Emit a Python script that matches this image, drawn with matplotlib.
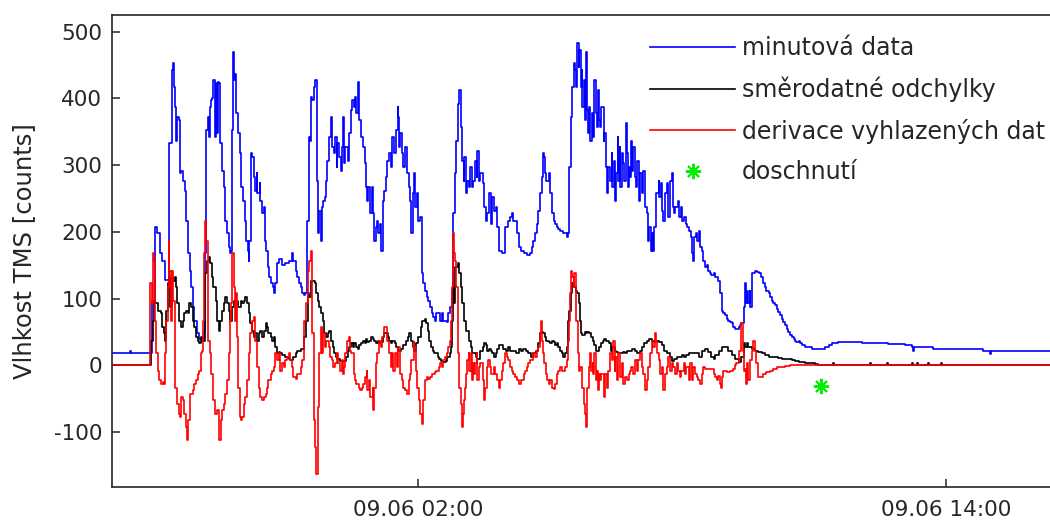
import numpy as np
import matplotlib
matplotlib.use("Agg")
import matplotlib.pyplot as plt

plt.rcParams["axes.unicode_minus"] = False

# time in minutes since 08.06 19:00, values in TMS counts
minutova = [(3,19),(26,19),(27,22),(28,19),(55,19),(57,97),(61,207),(64,198),(68,168),(71,157),(75,128),(80,132),(81,333),(84,442),(86,453),(87,417),(89,387),(90,337),(91,372),(94,367),(95,288),(97,292),(100,277),(102,262),(104,217),(106,168),(109,142),(111,117),(113,87),(115,67),(119,48),(122,40),(125,40),(128,52),(130,168),(131,352),(133,372),(135,342),(136,387),(138,397),(139,400),(141,427),(143,342),(145,423),(146,348),(147,425),(149,423),(150,333),(153,292),(155,267),(157,217),(160,198),(162,177),(164,168),(165,172),(166,352),(168,470),(169,427),(171,437),(172,378),(175,348),(177,318),(179,267),(181,247),(184,217),(185,187),(188,172),(189,157),(190,187),(192,318),(194,312),(196,282),(198,262),(200,288),(201,258),(204,273),(205,247),(207,228),(210,237),(211,187),(213,172),(215,147),(217,132),(220,123),(222,117),(224,108),(225,123),(228,153),(230,160),(235,150),(239,153),(244,157),(248,168),(250,157),(253,142),(255,132),(257,123),(260,117),(262,108),(264,105),(266,108),(268,127),(269,217),(271,342),(272,337),(274,402),(275,397),(278,417),(280,427),(282,277),(283,198),(285,232),(287,187),(289,237),(291,247),(293,252),(295,277),(296,307),(299,342),(301,372),(302,327),(305,318),(307,342),(309,297),(310,333),(312,312),(315,292),(316,327),(318,372),(319,303),(321,327),(324,307),(326,348),(328,382),(330,397),(332,387),(334,402),(336,378),(338,425),(340,367),(342,342),(345,327),(347,303),(349,267),(350,247),(352,267),(355,228),(357,267),(359,228),(360,187),(362,207),(364,217),(366,198),(368,212),(370,172),(372,247),(374,262),(376,282),(378,307),(380,318),(383,297),(385,342),(387,318),(390,352),(392,387),(393,372),(394,327),(396,348),(398,318),(400,297),(402,327),(405,288),(407,267),(409,247),(411,198),(413,258),(415,288),(416,237),(418,258),(420,217),(423,222),(425,138),(427,123),(430,112),(432,102),(434,97),(436,87),(439,78),(441,72),(443,67),(445,78),(448,78),(450,67),(452,78),(454,67),(459,65),(461,78),(464,87),(466,112),(467,217),(468,228),(470,288),(472,337),(474,382),(475,392),(476,412),(478,357),(480,307),(482,277),(483,312),(485,258),(487,277),(489,267),(491,297),(493,267),(495,277),(498,307),(500,282),(501,322),(503,277),(505,288),(508,273),(510,237),(512,217),(514,228),(517,258),(519,212),(521,252),(524,232),(526,237),(528,207),(531,172),(534,168),(537,168),(539,207),(542,217),(545,222),(548,228),(550,217),(554,217),(555,198),(558,177),(561,172),(565,168),(568,165),(572,168),(575,177),(577,187),(580,198),(582,212),(584,232),(586,258),(589,282),(590,318),(592,312),(593,288),(595,277),(598,288),(600,258),(602,228),(605,217),(607,212),(609,207),(611,205),(614,202),(618,198),(623,193),(625,198),(626,297),(628,372),(630,417),(632,453),(634,442),(635,417),(637,483),(639,447),(640,472),(642,417),(643,442),(644,387),(646,427),(648,367),(649,470),(651,382),(652,348),(653,387),(655,337),(657,378),(659,342),(660,427),(662,378),(664,357),(665,412),(667,367),(668,357),(670,387),(673,337),(674,348),(676,297),(678,258),(679,297),(682,277),(684,318),(685,267),(687,307),(689,247),(690,288),(692,342),(693,277),(695,327),(696,267),(698,318),(700,303),(701,277),(703,363),(705,318),(706,267),(708,297),(709,282),(710,337),(712,292),(713,327),(716,282),(717,267),(719,307),(721,247),(723,288),(725,258),(727,292),(730,237),(732,228),(733,187),(735,207),(737,172),(739,198),(741,172),(742,207),(744,242),(745,258),(748,277),(749,252),(751,273),(753,232),(754,217),(757,258),(759,273),(761,222),(764,277),(766,288),(767,237),(769,228),(771,237),(774,247),(776,222),(778,237),(780,217),(783,222),(785,212),(787,207),(790,202),(792,193),(794,168),(795,157),(796,193),(799,198),(801,187),(803,202),(804,177),(807,172),(809,157),(811,147),(814,150),(816,142),(818,138),(820,135),(823,138),(825,132),(829,127),(832,108),(834,82),(836,78),(839,75),(841,70),(843,67),(845,65),(848,63),(850,57),(852,55),(854,55),(857,57),(859,60),(861,63),(863,63),(865,87),(866,123),(867,93),(869,112),(870,93),(872,112),(873,87),(875,93),(876,138),(879,142),(882,140),(885,138),(888,132),(891,123),(893,117),(895,112),(898,108),(900,102),(902,97),(904,93),(907,90),(909,85),(911,80),(914,75),(916,70),(918,65),(920,60),(923,55),(925,50),(927,46),(930,42),(932,40),(934,36),(936,35),(939,37),(941,33),(943,30),(948,27),(952,27),(957,25),(970,25),(975,27),(980,30),(984,33),(989,34),(993,35),(1011,35),(1025,34),(1043,34),(1061,32),(1070,32),(1084,30),(1094,27),(1095,22),(1096,27),(1122,25),(1145,24),(1169,24),(1190,22),(1199,22),(1200,17),(1201,22),(1214,22),(1259,22),(1282,21),(1420,21)]

odchylky = [(3,0),(55,0),(56,37),(58,67),(60,97),(62,93),(64,93),(66,82),(69,78),(71,57),(73,48),(75,37),(77,82),(79,123),(80,132),(82,87),(84,132),(86,127),(88,132),(90,117),(92,93),(94,67),(97,57),(99,67),(101,78),(104,82),(106,78),(108,93),(110,87),(113,67),(115,57),(117,42),(120,37),(122,33),(124,42),(126,37),(129,67),(130,138),(132,157),(135,162),(137,153),(139,132),(141,117),(144,97),(146,67),(148,52),(150,67),(153,82),(155,93),(157,102),(160,93),(162,82),(164,67),(166,87),(169,97),(171,93),(173,97),(175,87),(178,97),(180,93),(182,97),(184,102),(187,93),(189,78),(191,63),(194,52),(196,42),(198,48),(200,37),(203,48),(205,52),(207,42),(210,52),(212,63),(214,57),(216,48),(219,42),(221,37),(223,42),(225,27),(228,18),(230,20),(232,18),(235,15),(237,15),(239,12),(244,10),(246,8),(248,8),(250,12),(253,18),(255,22),(257,22),(260,25),(262,25),(264,27),(265,42),(267,67),(270,108),(271,102),(274,127),(276,127),(279,123),(281,108),(283,97),(285,87),(288,78),(290,67),(292,48),(295,42),(297,48),(299,52),(301,37),(304,27),(306,18),(308,12),(310,10),(313,7),(319,7),(322,12),(324,22),(326,27),(329,33),(331,27),(333,33),(335,27),(338,25),(340,30),(342,33),(345,37),(347,33),(349,40),(351,35),(353,37),(356,42),(358,40),(360,37),(363,33),(365,37),(367,33),(369,35),(372,42),(374,48),(376,48),(379,42),(381,37),(383,33),(385,37),(388,33),(390,27),(392,22),(394,22),(397,25),(399,30),(401,30),(404,37),(406,42),(408,48),(410,37),(413,27),(415,22),(417,33),(420,42),(422,42),(424,57),(426,67),(429,70),(431,63),(433,52),(435,37),(438,27),(440,22),(442,18),(445,18),(447,12),(449,10),(451,7),(454,5),(458,7),(460,12),(463,18),(465,27),(466,67),(467,117),(469,93),(471,147),(474,153),(476,138),(478,117),(480,93),(483,67),(485,52),(487,52),(490,37),(492,27),(494,18),(496,18),(499,12),(501,10),(503,10),(505,22),(508,27),(510,33),(512,30),(514,22),(517,25),(519,22),(521,18),(524,12),(526,18),(528,25),(530,30),(533,30),(536,25),(540,22),(543,27),(546,22),(550,22),(554,18),(557,25),(560,22),(563,25),(567,22),(570,18),(574,12),(577,18),(581,22),(584,33),(586,48),(589,50),(591,48),(593,42),(595,37),(598,35),(600,33),(602,37),(605,35),(607,30),(609,33),(611,27),(614,22),(616,18),(618,12),(620,18),(623,27),(624,67),(626,82),(628,108),(630,123),(633,117),(635,112),(637,108),(640,93),(641,67),(642,48),(644,46),(647,50),(649,48),(651,50),(653,48),(656,42),(658,37),(660,30),(663,22),(665,22),(667,27),(670,33),(672,37),(674,40),(676,37),(679,37),(681,33),(683,22),(685,27),(688,22),(690,20),(692,18),(695,18),(699,20),(702,18),(705,22),(709,22),(712,25),(716,22),(719,18),(722,22),(725,27),(728,33),(732,37),(735,40),(739,37),(742,35),(745,37),(749,35),(752,30),(755,22),(759,18),(763,12),(766,7),(769,10),(773,12),(780,15),(783,12),(786,15),(790,18),(800,18),(803,12),(807,22),(811,25),(816,20),(820,12),(823,10),(825,15),(830,22),(834,27),(839,28),(843,22),(848,15),(852,10),(857,5),(861,12),(864,33),(866,27),(868,33),(870,27),(875,25),(880,22),(884,20),(889,18),(893,15),(898,13),(902,12),(911,11),(916,10),(925,9),(930,8),(934,7),(939,5),(948,4),(952,3),(961,2),(966,1),(970,0),(985,0),(986,3),(987,0),(1035,0),(1036,3),(1037,0),(1059,0),(1060,4),(1061,0),(1093,0),(1094,3),(1095,0),(1099,0),(1100,4),(1101,0),(1114,0),(1115,3),(1116,0),(1132,0),(1133,3),(1134,0),(1420,0)]

derivace = [(3,0),(53,0),(55,123),(57,93),(59,168),(60,157),(62,67),(63,18),(65,-8),(67,-22),(70,-27),(72,-25),(74,-27),(75,18),(77,67),(79,117),(80,187),(81,142),(83,67),(85,142),(86,97),(88,18),(89,-33),(91,-57),(94,-72),(96,-77),(97,-47),(100,-52),(101,-72),(104,-92),(105,-112),(107,-82),(109,-42),(111,-42),(113,-37),(115,-27),(117,-22),(120,-12),(122,-8),(124,18),(125,22),(127,67),(128,168),(130,217),(131,187),(133,67),(134,37),(136,18),(138,-12),(140,-22),(141,-52),(143,-72),(146,-67),(148,-82),(149,-112),(151,-82),(153,-67),(155,-57),(157,-42),(160,-22),(162,18),(164,67),(165,93),(167,168),(169,117),(170,67),(172,108),(173,42),(175,-33),(177,-77),(179,-82),(180,-77),(182,-57),(184,-47),(187,-22),(189,18),(191,48),(194,67),(196,72),(198,37),(200,-3),(203,-33),(205,-47),(207,-52),(210,-47),(212,-42),(214,-33),(216,-22),(219,-12),(221,-8),(223,-3),(225,18),(228,8),(230,18),(232,-8),(235,3),(237,-3),(239,8),(241,12),(244,18),(246,8),(248,-3),(250,-17),(253,-20),(255,-13),(257,-12),(260,-3),(262,8),(264,27),(265,67),(267,93),(270,142),(271,157),(274,172),(275,138),(276,48),(278,-82),(280,-122),(281,-162),(283,-127),(284,-62),(285,18),(287,57),(289,18),(291,48),(293,27),(295,37),(298,27),(300,12),(302,8),(304,-3),(307,3),(309,18),(311,3),(314,-8),(316,8),(318,-12),(319,-3),(321,18),(323,37),(326,42),(327,22),(329,18),(332,-12),(334,-22),(336,-27),(339,-33),(341,-37),(343,-33),(345,-27),(348,-17),(350,-8),(351,-37),(353,-22),(355,-47),(358,-33),(359,-67),(360,-33),(362,3),(364,18),(367,37),(369,27),(371,42),(374,57),(376,57),(378,37),(380,18),(383,-3),(385,18),(386,-8),(389,18),(391,-3),(393,27),(395,-12),(398,-22),(400,-33),(402,-37),(405,-42),(407,-22),(409,-12),(411,8),(414,35),(415,27),(417,-8),(419,-33),(421,-52),(423,-72),(425,-87),(427,-52),(430,-22),(432,-17),(434,-20),(436,-17),(439,-12),(443,-10),(445,-8),(448,-3),(450,3),(452,-3),(454,8),(457,12),(459,18),(461,27),(463,37),(465,67),(466,117),(467,198),(469,168),(470,157),(472,117),(474,67),(475,18),(476,-33),(478,-57),(480,-92),(481,-72),(483,-52),(484,-33),(485,-12),(487,8),(489,18),(490,-8),(492,18),(493,-22),(495,3),(496,-12),(498,3),(500,18),(501,-22),(503,-3),(505,3),(508,-22),(510,-52),(511,-33),(514,-3),(516,8),(518,-3),(520,-12),(523,-3),(525,-12),(527,-22),(530,-33),(532,-22),(534,-8),(536,3),(539,18),(541,12),(543,8),(545,-3),(548,-8),(550,-12),(552,-17),(555,-22),(557,-27),(559,-27),(561,-22),(564,-12),(566,-8),(568,-3),(570,3),(573,8),(577,18),(580,12),(582,22),(584,27),(586,48),(588,67),(589,37),(591,18),(592,3),(594,-12),(596,-22),(599,-27),(600,-22),(602,-33),(605,-35),(607,-27),(609,-12),(611,-8),(614,-3),(616,-8),(620,-3),(623,8),(624,37),(626,67),(627,108),(629,142),(630,132),(632,117),(633,138),(635,108),(636,67),(638,18),(640,-8),(641,-3),(643,-33),(646,-57),(647,-72),(649,-92),(650,-67),(651,-33),(653,-3),(655,18),(656,-8),(658,3),(659,-12),(660,18),(662,-22),(664,-8),(665,-37),(667,-12),(668,-22),(670,-12),(673,-47),(675,-12),(677,-33),(679,-8),(682,18),(684,8),(686,37),(688,-8),(689,12),(691,-22),(693,18),(695,-17),(698,3),(700,-27),(702,-17),(705,-22),(707,-12),(709,-8),(711,-3),(713,-12),(716,8),(718,-8),(720,8),(723,18),(725,-3),(727,-12),(730,-37),(732,-22),(734,-3),(736,18),(739,37),(741,27),(743,48),(745,37),(746,18),(748,8),(750,-12),(752,-3),(754,-37),(757,-12),(759,-3),(761,12),(764,-8),(766,3),(768,-3),(771,-12),(773,3),(775,-8),(777,-17),(779,-8),(782,3),(784,-12),(786,-3),(789,-22),(791,3),(793,-22),(795,-3),(798,-12),(800,-17),(802,-22),(805,-27),(807,-12),(809,-3),(811,-5),(816,-5),(820,-5),(823,-12),(825,-17),(827,-22),(829,-15),(832,-27),(833,-33),(835,-17),(836,-8),(841,-10),(845,-8),(850,-5),(852,0),(854,3),(857,8),(858,22),(860,52),(861,63),(863,22),(864,-8),(866,-5),(867,-27),(869,3),(870,-22),(872,-8),(873,8),(875,22),(877,37),(880,22),(881,3),(883,-17),(886,-17),(891,-12),(895,-10),(900,-8),(904,-5),(909,-3),(916,-3),(920,-1),(927,0),(1420,0)]

doschnuti_min = [970]
doschnuti_val = [-30]

tick_minutes = [420, 1140]
tick_labels = ["09.06 02:00", "09.06 14:00"]
y_ticks = [-100, 0, 100, 200, 300, 400, 500]

txt = "#262626"

fig = plt.figure(figsize=(10.5, 5.22), dpi=100)
# axes run past the right edge of the figure
ax = fig.add_axes([112 / 1050, 35 / 522, 1038 / 1050, 472 / 522])

series = [
    (minutova, "#0000ff", "minutová data"),
    (odchylky, "#000000", "směrodatné odchylky"),
    (derivace, "#ff0000", "derivace vyhlazených dat"),
]
for data, col, lab in series:
    t, v = np.array(data).T
    ax.plot(t, v, color=col, lw=1.2, drawstyle="steps-post", label=lab)

ax.plot(doschnuti_min, doschnuti_val, linestyle="none", marker=(8, 2, 0),
        markersize=11, markeredgewidth=1.4, color="#00ee00", label="doschnutí")

ax.set_xlim(2.7, 1418)
ax.set_ylim(-182, 525)
ax.set_xticks(tick_minutes)
ax.set_xticklabels(tick_labels)
ax.set_yticks(y_ticks)

ax.tick_params(direction="in", length=6, width=1.1, color=txt, labelcolor=txt,
               labelsize=15.5)
ax.tick_params(axis="y", pad=7)
ax.tick_params(axis="x", pad=9)
for side in ["left", "top", "bottom"]:
    ax.spines[side].set_linewidth(1.2)
    ax.spines[side].set_color(txt)
ax.spines["right"].set_visible(False)

ax.set_ylabel("Vlhkost TMS [counts]", fontsize=17.5, color=txt)
ax.yaxis.set_label_coords(-0.073, 0.5)

ax.legend(loc="upper left", bbox_to_anchor=(650 / 1050, 1 - 36 / 522),
          bbox_transform=fig.transFigure, frameon=False, fontsize=17,
          handlelength=3.6, handletextpad=0.3, labelspacing=0.7,
          borderpad=0, borderaxespad=0, numpoints=1, labelcolor=txt)

fig.savefig("out.png", dpi=100)
